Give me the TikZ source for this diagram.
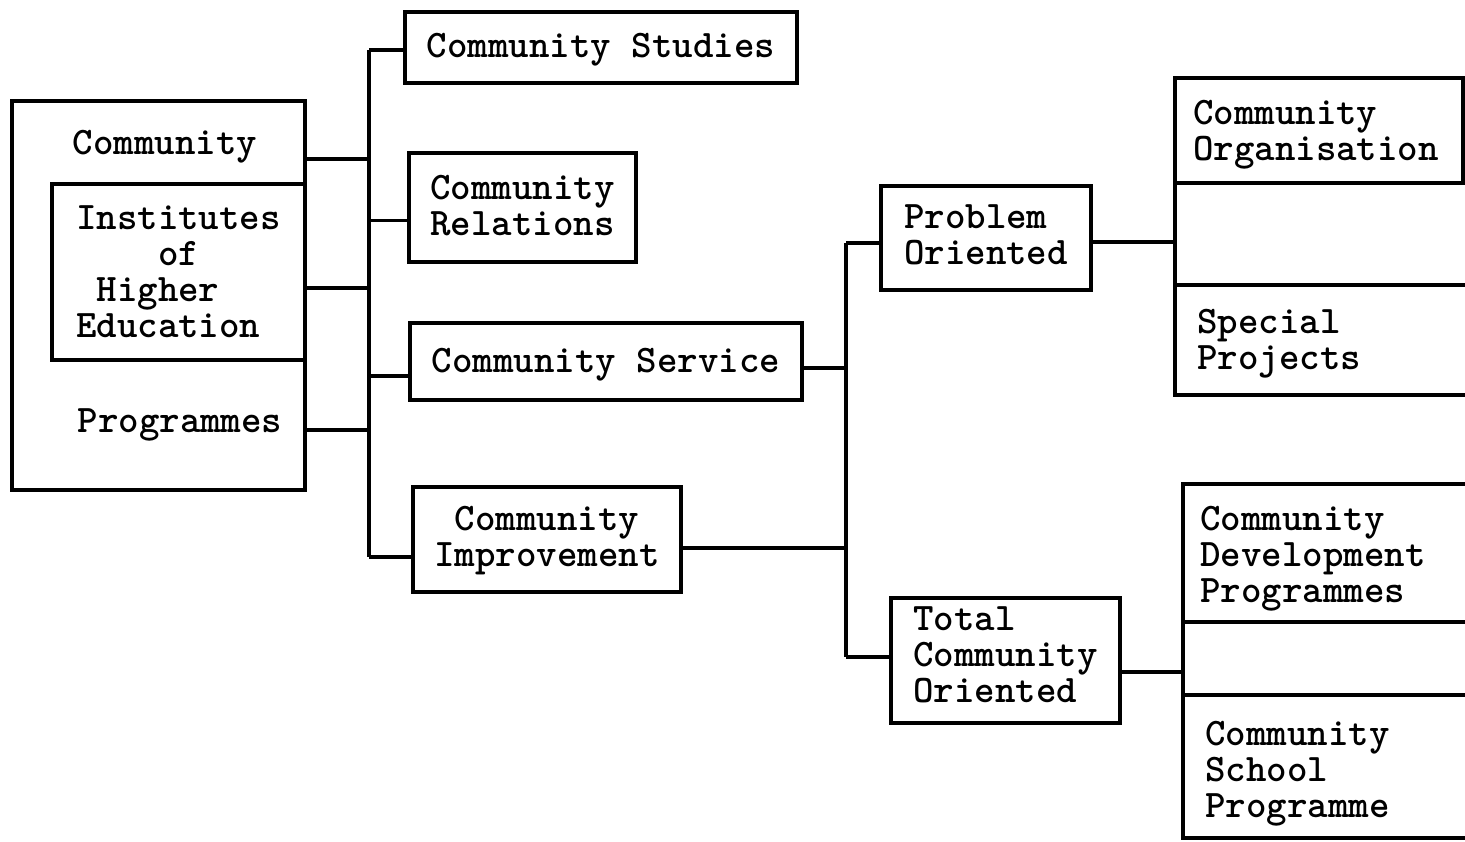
\documentclass[tikz,border=0pt]{standalone}
\usepackage{fontspec}
\usetikzlibrary{fit}
\begin{document}
\begin{tikzpicture}[x=0.02cm,y=-0.02cm,
  box/.style={draw, inner sep=0pt, outer sep=0pt, line width=1.8pt},
  txt/.style={font=\fontsize{22.2}{20.5}\selectfont\ttfamily\bfseries, align=left, inner sep=0pt},
  wire/.style={line width=1.8pt}]
\useasboundingbox (0,0) rectangle (1465,842);
\clip (0,0) rectangle (1465,842);

% --- source block on the left ---
\node[box, fit={(12,101) (305,490)}] (chei) {};
\node[box, fit={(52,184) (305,360)}] (ihe) {};
\node[txt] (ihet) at ([xshift=0.0cm,yshift=0.0cm]ihe.center)
  {Institutes\\\phantom{0000}of\\\phantom{0}Higher\\Education};
\node[txt] (lcom) at (165,147) {Community};
\node[txt] (lprog) at (180,425) {Programmes};

% --- second column ---
\node[box, fit={(405,12) (797,83)}] (cs) {};
\node[txt] (cst) at ([yshift=-0.04cm]cs.center) {Community Studies};
\node[box, fit={(409,153) (636,262)}] (cr) {};
\node[txt] (crt) at ([yshift=0.04cm]cr.center) {Community\\Relations};
\node[box, fit={(410,323) (802,400)}] (csv) {};
\node[txt] (csvt) at ([yshift=-0.06cm]csv.center) {Community Service};
\node[box, fit={(413,487) (681,592)}] (ci) {};
\node[txt, align=center] (cit) at ([yshift=-0.02cm]ci.center) {Community\\Improvement};

% --- third column ---
\node[box, fit={(881,186) (1091,290)}] (po) {};
\node[txt] (pot) at ([yshift=0.06cm]po.center) {Problem\\Oriented};
\node[box, fit={(891,598) (1120,723)}] (tco) {};
\node[txt] (tcot) at ([yshift=0.12cm]tco.center) {Total\\Community\\Oriented};

% --- right column (open to the right) ---
\node[box, fit={(1175,78) (1463,183)}] (co) {};
\node[txt] (cot) at ([xshift=-0.06cm,yshift=-0.08cm]co.center) {Community\\Organisation};
\node[box, fit={(1175,285) (1500,395)}] (sp) {};
\node[txt, anchor=west] (spt) at ([xshift=0.44cm,yshift=-0.08cm]sp.west) {Special\\Projects};
\node[box, fit={(1183,484) (1500,622)}] (cdp) {};
\node[txt, anchor=west] (cdpt) at ([xshift=0.34cm,yshift=-0.12cm]cdp.west) {Community\\Development\\Programmes};
\node[box, fit={(1183,695) (1500,838)}] (csp) {};
\node[txt, anchor=west] (cspt) at ([xshift=0.44cm,yshift=-0.15cm]csp.west) {Community\\School\\Programme};

% --- first trunk ---
\coordinate (ta) at (369,50);
\coordinate (tb) at (369,557);
\draw[wire] (ta) -- (tb);
\coordinate (l1) at ([yshift=2.73cm]chei.east);
\coordinate (l2) at ([yshift=0.15cm]chei.east);
\coordinate (l3) at ([yshift=-2.69cm]chei.east);
\draw[wire] (l1) -- (l1 -| ta);
\draw[wire] (l2) -- (l2 -| ta);
\draw[wire] (l3) -- (l3 -| ta);
\draw[wire] (ta) -- (ta -| cs.west);
\coordinate (crl) at ([yshift=-0.26cm]cr.west);
\draw[wire] (crl -| ta) -- (crl);
\coordinate (csvl) at ([yshift=-0.29cm]csv.west);
\draw[wire] (csvl -| ta) -- (csvl);
\draw[wire] (tb) -- (tb -| ci.west);

% --- second trunk ---
\coordinate (ua) at (846,243);
\coordinate (ub) at (846,657);
\draw[wire] (ua) -- (ub);
\coordinate (csvr) at ([yshift=-0.13cm]csv.east);
\draw[wire] (csvr) -- (csvr -| ua);
\coordinate (cir) at ([yshift=-0.17cm]ci.east);
\draw[wire] (cir) -- (cir -| ua);
\draw[wire] (ua) -- (ua -| po.west);
\draw[wire] (ub) -- (ub -| tco.west);

% --- links to the right column ---
\coordinate (por) at ([yshift=-0.08cm]po.east);
\draw[wire] (por) -- (por -| co.west);
\draw[wire] (co.south west) -- (sp.north west);
\coordinate (tcor) at ([yshift=-0.23cm]tco.east);
\draw[wire] (tcor) -- (tcor -| cdp.west);
\draw[wire] (cdp.south west) -- (csp.north west);
\end{tikzpicture}
\end{document}
